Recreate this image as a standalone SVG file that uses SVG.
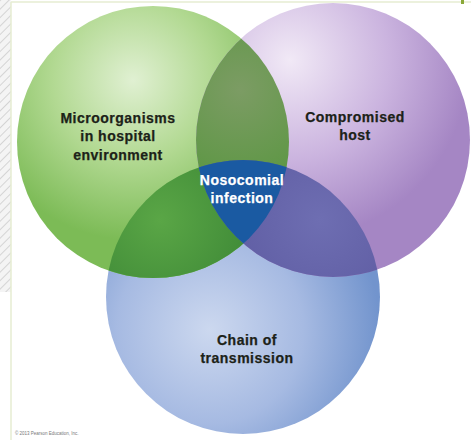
<svg xmlns="http://www.w3.org/2000/svg" width="471" height="440" viewBox="0 0 471 440">
<style>
.lbl{font-family:"Liberation Sans",Arial,sans-serif;font-weight:bold;font-size:14px;letter-spacing:0.5px;text-anchor:middle;fill:#1c2218;stroke:#1c2218;stroke-width:0.25}
.wht{fill:#ffffff;stroke:#ffffff}
.copy{font-family:"Liberation Sans",Arial,sans-serif;font-size:4.5px;fill:#777}
</style>
<defs>
<pattern id="hatch" width="6" height="6" patternUnits="userSpaceOnUse" patternTransform="rotate(45)">
<rect width="6" height="6" fill="#f4f4f4"/>
<line x1="0" y1="0" x2="0" y2="6" stroke="#d4d4d4" stroke-width="2"/>
</pattern>
<radialGradient id="gG" cx="133" cy="80" r="160" gradientUnits="userSpaceOnUse">
<stop offset="0" stop-color="#e0f0d2"/><stop offset="0.5" stop-color="#b2d992"/><stop offset="1" stop-color="#7cbb56"/>
</radialGradient>
<radialGradient id="gP" cx="290" cy="60" r="180" gradientUnits="userSpaceOnUse">
<stop offset="0" stop-color="#f1e9f6"/><stop offset="0.55" stop-color="#cbb4df"/><stop offset="1" stop-color="#a586c4"/>
</radialGradient>
<radialGradient id="gB" cx="210" cy="330" r="170" gradientUnits="userSpaceOnUse">
<stop offset="0" stop-color="#ccd8ef"/><stop offset="0.55" stop-color="#a6bae2"/><stop offset="1" stop-color="#7294cd"/>
</radialGradient>
<radialGradient id="gGP" cx="240" cy="90" r="90" gradientUnits="userSpaceOnUse">
<stop offset="0" stop-color="#7c9c64"/><stop offset="1" stop-color="#5f9746"/>
</radialGradient>
<radialGradient id="gGB" cx="160" cy="220" r="90" gradientUnits="userSpaceOnUse">
<stop offset="0" stop-color="#5aa646"/><stop offset="1" stop-color="#418c38"/>
</radialGradient>
<radialGradient id="gPB" cx="320" cy="220" r="90" gradientUnits="userSpaceOnUse">
<stop offset="0" stop-color="#6e6eb2"/><stop offset="1" stop-color="#605ea4"/>
</radialGradient>
<clipPath id="cG"><circle cx="153" cy="142" r="136"/></clipPath>
<clipPath id="cP"><circle cx="333" cy="140" r="137"/></clipPath>
<clipPath id="cB"><circle cx="243" cy="297" r="137"/></clipPath>
</defs>
<rect width="471" height="440" fill="#ffffff"/>
<rect x="0" y="0" width="11" height="292" fill="url(#hatch)"/>
<line x1="11" y1="2" x2="11" y2="440" stroke="#e6ecd2" stroke-width="1.5"/>
<line x1="11" y1="2" x2="471" y2="2" stroke="#e6ecd2" stroke-width="1.5"/>
<rect x="461" y="0" width="3" height="4" fill="#8aa838"/>

<g id="node-chain">
<circle cx="243" cy="297" r="137" fill="url(#gB)"/>
<text class="lbl" x="247" y="345">Chain of</text>
<text class="lbl" x="247" y="363">transmission</text>
</g>
<g id="node-microorganisms">
<circle cx="153" cy="142" r="136" fill="url(#gG)"/>
</g>
<g id="node-host">
<circle cx="333" cy="140" r="137" fill="url(#gP)"/>
</g>
<g id="overlaps">
<g clip-path="url(#cP)"><circle cx="153" cy="142" r="136" fill="url(#gGP)"/></g>
<g clip-path="url(#cB)"><circle cx="153" cy="142" r="136" fill="url(#gGB)"/></g>
<g clip-path="url(#cB)"><circle cx="333" cy="140" r="137" fill="url(#gPB)"/></g>
</g>
<g id="node-nosocomial">
<g clip-path="url(#cG)"><g clip-path="url(#cP)"><circle cx="243" cy="297" r="137" fill="#1a5aa2"/></g></g>
<text class="lbl wht" x="242" y="185">Nosocomial</text>
<text class="lbl wht" x="242" y="203">infection</text>
</g>
<g id="labels">
<text class="lbl" x="118" y="123">Microorganisms</text>
<text class="lbl" x="118" y="141">in hospital</text>
<text class="lbl" x="118" y="160">environment</text>
<text class="lbl" x="355" y="122">Compromised</text>
<text class="lbl" x="355" y="140">host</text>
</g>
<text class="copy" x="15" y="435">© 2013 Pearson Education, Inc.</text>
</svg>
